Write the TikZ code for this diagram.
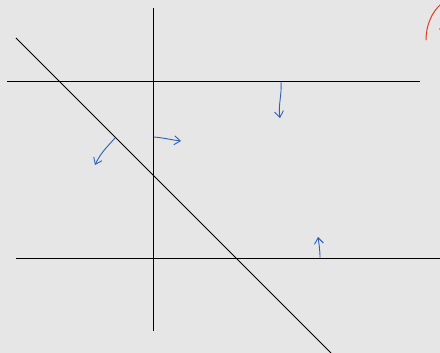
\documentclass[tikz,border=0pt]{standalone}
\usetikzlibrary{arrows.meta}
\definecolor{bg}{HTML}{E6E6E6}
\definecolor{pen}{HTML}{2B5FC0}
\definecolor{redpen}{HTML}{E8381E}
\begin{document}
\begin{tikzpicture}[x=1pt,y=-1pt,
  axis/.style={draw=black,line width=0.95pt},
  flow/.style={draw=pen,line width=0.9pt,line cap=round,-{Straight Barb[length=6pt,width=9pt]}}]
\fill[bg] (0,0) rectangle (440,353);
\useasboundingbox (0,0) rectangle (440,353);
% black lines
\draw[axis] (153,8) -- (153,331);
\draw[axis] (7,81) -- (420,81);
\draw[axis] (16,258) -- (440,258);
\draw[axis] (16,38) -- (331,353);
% blue arrows
\draw[flow] (281,82) .. controls (282,95) and (278,105) .. (280,118);
\draw[flow] (154,137) .. controls (165,138) and (172,140) .. (181,141);
\draw[flow] (115,138) .. controls (109,145) and (101,152) .. (95,165);
\draw[flow] (320,258) .. controls (320,250) and (319,244) .. (318,237);
% red arc
\draw[draw=redpen,line width=1pt,line cap=round] (426,40) .. controls (426,25) and (432,12) .. (441,4);
\fill[redpen] (439.5,29) circle (0.7);
\end{tikzpicture}
\end{document}
